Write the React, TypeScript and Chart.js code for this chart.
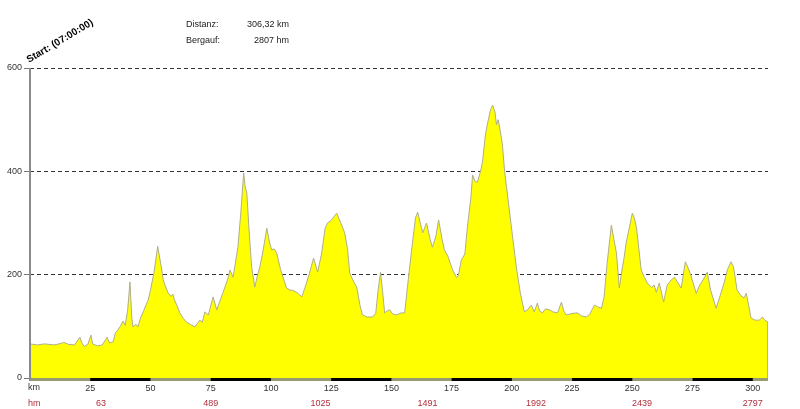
import React, { useEffect, useRef } from "react";
import { Chart, registerables } from "chart.js";

Chart.register(...registerables);

// Elevation profile: distance in km, elevation in m
const kmValues = [
  0, 3, 6, 10, 13, 14, 16, 18.5, 20.7, 21.5, 22.5, 24, 25.3, 26, 28, 30, 32, 33, 34.5, 35.5,
  36.5, 37.5, 38.6, 39.5, 40.5, 41.5, 42.2, 42.7, 44, 44.8, 46, 47, 48, 49, 50, 51.5, 53, 54.5, 55.3, 56, 57.2,
  58.5, 59.3, 60, 61, 62.2, 63.5, 65, 66.5, 68.4, 70.5, 71.5, 72.6, 74, 76, 77.5, 80, 82, 83, 84.3,
  86.3, 87.5, 88.7, 89.3, 90, 91, 92, 93.3, 94.5, 95.4, 96.5, 98.3, 99.3, 100.3, 101.3, 102.4,
  104, 106.5, 108, 109, 111, 112.8, 114.5, 116, 117.7, 119.4, 121, 122.5, 123.5, 125, 127.3,
  129, 130.6, 131.8, 132.7, 134.5, 135.6, 137, 138, 140, 142.2, 143.5, 144.5, 145.5, 146.3,
  147.2, 148.3, 149.3, 150.5, 152.2, 154, 155.5, 157, 158.4, 160, 160.9, 162, 163, 164.6, 166,
  167, 168.5, 169.6, 171, 172, 173.5, 175.4, 177, 177.8, 179, 180.5, 181.5, 183, 183.7, 184.8,
  185.7, 187, 187.8, 189, 190, 191.2, 192, 193, 193.6, 194.3, 195, 196.1, 197, 198.2, 200,
  201.9, 203.5, 205.2, 206.5, 208.1, 209.3, 210.6, 211.5, 212.7, 214, 215.6, 217, 219, 220.6,
  221.5, 222.6, 225, 227.2, 229, 231, 232.5, 234.3, 235.5, 237.2, 238.3, 239.5, 241.3, 242.3,
  243.4, 244.6, 245.9, 246.5, 247.5, 248.5, 250, 250.8, 251.7, 253.7, 255, 256.2, 258, 259,
  260, 261.2, 263, 264.5, 266.2, 267.5, 268.7, 270.3, 272, 273, 274, 275.5, 276.5, 278, 278.6,
  280, 281.1, 282.5, 284.8, 286.5, 288.1, 289.5, 291, 292, 293.5, 295, 296.4, 297.3, 298.3,
  299.3, 301, 302.7, 304, 305, 306.32, 306.32,
];
const elevValues = [
  66, 64, 66, 64, 67, 69, 65, 64, 79, 68, 61, 65, 83, 66, 62, 64, 79, 68, 70, 88,
  93, 100, 110, 102, 130, 186, 120, 99, 104, 99, 118, 128, 140, 150, 170, 205, 255, 215, 190, 180, 166,
  158, 162, 151, 140, 126, 116, 108, 104, 99, 112, 108, 128, 122, 157, 132, 164, 190, 209, 195,
  253, 320, 397, 370, 358, 280, 215, 176, 200, 215, 240, 290, 265, 248, 250, 242,
  210, 174, 170, 170, 165, 157, 180, 203, 232, 205, 240, 290, 300, 305, 319,
  300, 281, 250, 203, 185, 176, 140, 122, 118, 118, 125, 170, 205, 170,
  126, 130, 132, 124, 122, 126, 126, 190, 248, 310, 321, 300, 281, 300, 270,
  253, 275, 306, 270, 248, 235, 209, 195, 198, 228, 240, 290, 350, 393, 380,
  379, 400, 418, 470, 495, 520, 528, 515, 490, 500, 484, 451, 400, 354, 285,
  213, 165, 128, 132, 141, 128, 145, 130, 126, 134, 132, 128, 126, 147,
  130, 122, 125, 126, 120, 118, 125, 141, 138, 135, 157, 220, 296, 270,
  242, 174, 215, 230, 263, 285, 319, 310, 292, 209, 195, 184, 175, 180,
  166, 184, 147, 180, 190, 195, 186, 174, 225, 215, 203, 180, 164, 180, 184,
  195, 205, 170, 135, 160, 184, 210, 225, 215, 170, 160, 155, 164, 140,
  116, 112, 112, 118, 112, 108, 0,
];

const totalKm = 306.32;
const kmTicks = [25, 50, 75, 100, 125, 150, 175, 200, 225, 250, 275, 300];
const yTicks = [0, 200, 400, 600];
const bandStarts = [25, 75, 125, 175, 225, 275];
const bandEnds = [50, 100, 150, 200, 250, 300];
const hmPositions = [29.5, 75, 120.6, 165, 210, 254, 300];
const hmLabels = ["63", "489", "1025", "1491", "1992", "2439", "2797"];
const startLabel = "Start: (07:00:00)";
const infoLabels = ["Distanz:", "Bergauf:"];
const infoValues = ["306,32 km", "2807 hm"];

const FONT = '"Liberation Sans", Arial, sans-serif';

const decorPlugin = {
  id: "decor",
  afterDraw(chart: any) {
    const ctx = chart.ctx as CanvasRenderingContext2D;
    const xs = chart.scales.x;
    const area = chart.chartArea;
    ctx.save();
    // x axis bar
    ctx.fillStyle = "#9a9a72";
    ctx.fillRect(area.left, area.bottom, area.right - area.left, 3);
    ctx.fillStyle = "#000";
    for (let i = 0; i < bandStarts.length; i++) {
      const a = xs.getPixelForValue(bandStarts[i]);
      const b = xs.getPixelForValue(bandEnds[i]);
      ctx.fillRect(a, area.bottom, b - a, 3);
    }
    // left axis line
    ctx.fillStyle = "#8a8a8a";
    ctx.fillRect(area.left - 1, area.top, 2, area.bottom - area.top + 3);

    ctx.font = `9px ${FONT}`;
    ctx.textBaseline = "middle";
    ctx.textAlign = "left";
    ctx.fillStyle = "#333";
    ctx.fillText("km", area.left - 2, area.bottom + 10);
    ctx.fillStyle = "#b0303c";
    ctx.fillText("hm", area.left - 2, area.bottom + 26);
    ctx.textAlign = "center";
    for (let i = 0; i < hmPositions.length; i++) {
      ctx.fillText(hmLabels[i], xs.getPixelForValue(hmPositions[i]), area.bottom + 26);
    }

    // info texts
    ctx.fillStyle = "#222";
    ctx.textAlign = "left";
    ctx.fillText(infoLabels[0], 186, 25);
    ctx.fillText(infoLabels[1], 186, 41);
    ctx.textAlign = "right";
    ctx.fillText(infoValues[0], 289, 25);
    ctx.fillText(infoValues[1], 289, 41);

    // start label
    ctx.translate(area.left - 1, area.top - 5);
    ctx.rotate((-31 * Math.PI) / 180);
    ctx.font = `bold 10px ${FONT}`;
    ctx.textAlign = "left";
    ctx.textBaseline = "alphabetic";
    ctx.fillStyle = "#000";
    ctx.fillText(startLabel, 0, 0);
    ctx.restore();
  },
};

export default function App() {
  const ref = useRef<HTMLCanvasElement | null>(null);
  useEffect(() => {
    document.body.style.margin = "0";
    if (!ref.current) return;
    const data = kmValues.map((x, i) => ({ x, y: elevValues[i] }));
    const chart = new Chart(ref.current, {
      type: "line",
      data: {
        datasets: [
          {
            data,
            fill: "origin",
            backgroundColor: "#ffff00",
            borderColor: "#b0ae8c",
            borderWidth: 1,
            pointRadius: 0,
            tension: 0,
          },
        ],
      },
      options: {
        responsive: false,
        animation: false,
        parsing: true,
        layout: { padding: { top: 68, right: 32, left: 0, bottom: 0 } },
        plugins: { legend: { display: false }, tooltip: { enabled: false } },
        font: { family: FONT, size: 9 },
        scales: {
          x: {
            type: "linear",
            min: 0,
            max: totalKm,
            afterBuildTicks: (s: any) => {
              s.ticks = kmTicks.map((v) => ({ value: v }));
            },
            afterFit: (s: any) => {
              s.height = 31;
            },
            ticks: {
              color: "#333",
              padding: 5,
              autoSkip: false,
              maxRotation: 0,
              font: { family: FONT, size: 9 },
            },
            grid: { display: false, drawTicks: false },
            border: { display: false },
          },
          y: {
            type: "linear",
            min: 0,
            max: 600,
            afterBuildTicks: (s: any) => {
              s.ticks = yTicks.map((v) => ({ value: v }));
            },
            afterFit: (s: any) => {
              s.width = 30;
            },
            ticks: { color: "#333", padding: 2, font: { family: FONT, size: 9 } },
            grid: {
              color: (c: any) => (c.tick && c.tick.value === 0 ? "rgba(0,0,0,0)" : "#333"),
              lineWidth: 1,
              tickLength: 6,
              tickColor: "#777",
              tickBorderDash: [],
              drawTicks: true,
            },
            border: { display: false, dash: [4, 3] },
          },
        },
      },
      plugins: [decorPlugin],
    } as any);
    return () => chart.destroy();
  }, []);
  return (
    <div style={{ position: "fixed", left: 0, top: 0, width: 800, height: 409, background: "#fff" }}>
      <canvas ref={ref} width={800} height={409} />
    </div>
  );
}
